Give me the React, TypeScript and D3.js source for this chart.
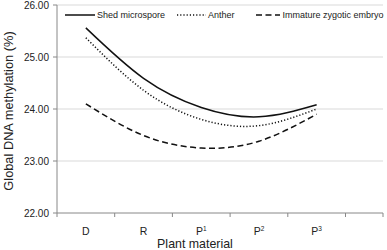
import React from "react";
import * as d3 from "d3";

const categories = ["D", "R", "P1", "P2", "P3"];
const categoryBase = ["D", "R", "P", "P", "P"];
const categorySup = ["", "", "1", "2", "3"];
const yTicks = [22, 23, 24, 25, 26];

const shedMicrospore = [25.56, 24.59, 24.03, 23.85, 24.08];
const anther = [25.37, 24.36, 23.8, 23.68, 24.0];
const immatureEmbryo = [24.1, 23.49, 23.25, 23.38, 23.9];

const W = 387;
const H = 250;
const left = 57;
const right = 383;
const top = 5;
const bottom = 213;

export default function App() {
  const x = d3.scaleBand<string>().domain(categories).range([left, 345.5]);
  const y = d3.scaleLinear().domain([22, 26]).range([bottom, top]);
  const cx = (c: string) => (x(c) as number) + x.bandwidth() / 2;

  const line = d3
    .line<number>()
    .x((_, i) => cx(categories[i]))
    .y((d) => y(d))
    .curve(d3.curveNatural);

  const tickXs = [...categories.map((c) => x(c) as number), x.range()[1], right];

  const series = [
    { name: "Shed microspore", data: shedMicrospore, dash: "none" },
    { name: "Anther", data: anther, dash: "1.2,2" },
    { name: "Immature zygotic embryo", data: immatureEmbryo, dash: "6,3.5" },
  ];

  const legend = [
    { x1: 65, x2: 95, tx: 97, dash: "none", name: "Shed microspore" },
    { x1: 177, x2: 206, tx: 208, dash: "1.2,2", name: "Anther" },
    { x1: 256, x2: 280, tx: 282.5, dash: "6,3.5", name: "Immature zygotic embryo" },
  ];

  const font = "Liberation Sans, Arial, sans-serif";

  return (
    <svg
      width={W}
      height={H}
      style={{ position: "absolute", left: 0, top: 0, background: "#fff" }}
      fontFamily={font}
    >
      {yTicks.map((t) => (
        <g key={t}>
          {t > 22 && (
            <line x1={left} x2={right} y1={y(t)} y2={y(t)} stroke="#d9d9d9" strokeWidth={1} />
          )}
          <line x1={left - 4} x2={left} y1={y(t)} y2={y(t)} stroke="#888" strokeWidth={1} />
          <text x={49} y={y(t) + 3.5} fontSize={10} textAnchor="end" fill="#222">
            {t.toFixed(2)}
          </text>
        </g>
      ))}
      <line x1={left} x2={left} y1={top} y2={bottom} stroke="#888" strokeWidth={1} />
      <line x1={left} x2={right} y1={bottom} y2={bottom} stroke="#888" strokeWidth={1} />
      {tickXs.map((tx, i) => (
        <line key={i} x1={tx} x2={tx} y1={bottom} y2={bottom + 4} stroke="#888" strokeWidth={1} />
      ))}
      {categories.map((c, i) => (
        <text key={c} x={cx(c)} y={235} fontSize={10.5} textAnchor="middle" fill="#222">
          {categoryBase[i]}
          {categorySup[i] && (
            <tspan fontSize={6.5} dy={-4.5}>
              {categorySup[i]}
            </tspan>
          )}
        </text>
      ))}
      <text x={195} y={248} fontSize={12.4} textAnchor="middle" fill="#222">
        Plant material
      </text>
      <text
        transform="translate(13,111) rotate(-90)"
        fontSize={12.8}
        textAnchor="middle"
        fill="#222"
      >
        Global DNA methylation (%)
      </text>
      {series.map((s) => (
        <path
          key={s.name}
          d={line(s.data) || ""}
          fill="none"
          stroke="#111"
          strokeWidth={1.5}
          strokeDasharray={s.dash}
        />
      ))}
      {legend.map((l) => (
        <g key={l.name}>
          <line x1={l.x1} x2={l.x2} y1={15} y2={15} stroke="#111" strokeWidth={1.5} strokeDasharray={l.dash} />
          <text x={l.tx} y={18.3} fontSize={9} fill="#222">
            {l.name}
          </text>
        </g>
      ))}
    </svg>
  );
}
